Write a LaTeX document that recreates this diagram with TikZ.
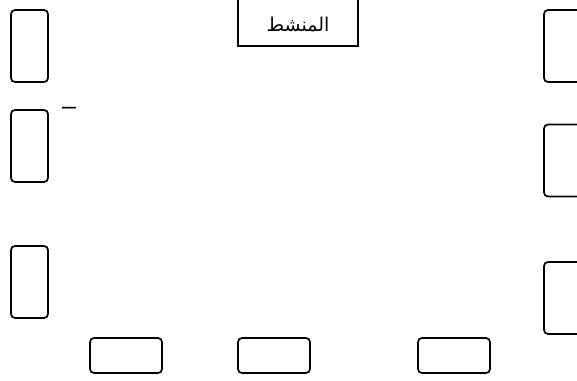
\documentclass[tikz,border=0pt]{standalone}
\usepackage{fontspec}
\setmainfont{Liberation Sans}
\newfontfamily\arabicfont[Script=Arabic]{DejaVu Sans}
\TeXXeTstate=1
\usetikzlibrary{positioning}

\begin{document}
\begin{tikzpicture}[x=1pt, y=-1pt,
  seat/.style={draw, line width=1.7pt, rounded corners=4pt,
    minimum width=37pt, minimum height=72pt, inner sep=0pt},
  desk/.style={draw, line width=1.7pt, rounded corners=4pt,
    minimum width=72pt, minimum height=35pt, inner sep=0pt},
  leader/.style={draw, line width=1.7pt, minimum width=120pt,
    minimum height=56pt, inner sep=0pt, text height=0pt, text depth=0pt,
    font=\fontsize{19}{22}\arabicfont},
]
  \useasboundingbox (0,0) rectangle (577,380);
  % left column
  \node[seat] (l1) at (29.5,46) {};
  \node[seat] (l2) at (29.5,146) {};
  \node[seat] (l3) at (29.5,282) {};
  % right column
  \node[seat] (r1) at (562.5,46) {};
  \node[seat] (r2) at (562.5,160.5) {};
  \node[seat] (r3) at (562.5,298) {};
  % bottom row
  \node[desk] (b1) at (126,355.5) {};
  \node[desk] (b2) at (274,355.5) {};
  \node[desk] (b3) at (454,355.5) {};
  % top
  \node[leader] (lead) at (298,18) {\raisebox{-13pt}{\beginR المنشط\endR}};
  \node[font=\fontsize{25}{25}\selectfont, inner sep=0pt] (dash) at (69,111) {–};
\end{tikzpicture}
\end{document}
